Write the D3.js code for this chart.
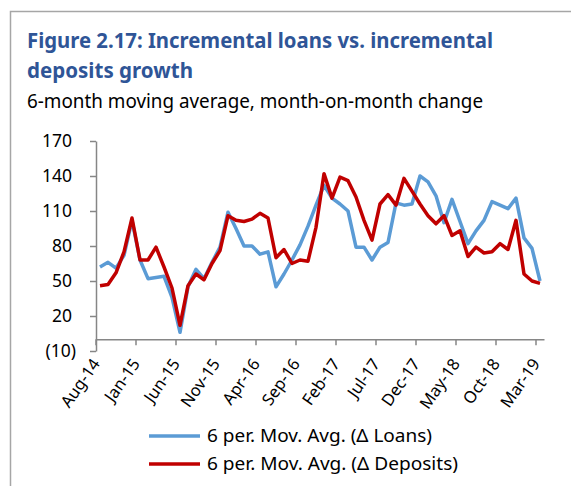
<!DOCTYPE html>
<html>
<head>
<meta charset="utf-8">
<script src="https://cdn.jsdelivr.net/npm/d3@7"></script>
<style>
  body { margin: 0; background: #fff; }
  text { font-family: "Noto Sans", "Open Sans", sans-serif; }
</style>
</head>
<body>
<script>
var months = ["Aug-14","Sep-14","Oct-14","Nov-14","Dec-14",
  "Jan-15","Feb-15","Mar-15","Apr-15","May-15","Jun-15","Jul-15","Aug-15","Sep-15","Oct-15","Nov-15","Dec-15",
  "Jan-16","Feb-16","Mar-16","Apr-16","May-16","Jun-16","Jul-16","Aug-16","Sep-16","Oct-16","Nov-16","Dec-16",
  "Jan-17","Feb-17","Mar-17","Apr-17","May-17","Jun-17","Jul-17","Aug-17","Sep-17","Oct-17","Nov-17","Dec-17",
  "Jan-18","Feb-18","Mar-18","Apr-18","May-18","Jun-18","Jul-18","Aug-18","Sep-18","Oct-18","Nov-18","Dec-18",
  "Jan-19","Feb-19","Mar-19"];

var loans = [62,66,61,72,102,68,52,53,54,36,6,45,60,52,66,79,109,95,80,80,73,75,45,56,68,81,97,115,132,
  121,116,110,79,79,68,79,83,117,115,116,140,135,123,100,120,101,82,93,102,118,115,112,121,87,78,50];

var deposits = [46,47,57,75,104,68,68,79,62,44,12,46,56,51,65,76,106,102,101,103,108,104,70,77,65,68,67,96,142,
  121,139,136,122,102,85,116,124,115,138,127,116,106,99,106,89,93,71,79,74,75,82,77,102,56,50,48];

var tickMonths = ["Aug-14","Jan-15","Jun-15","Nov-15","Apr-16","Sep-16","Feb-17","Jul-17","Dec-17","May-18","Oct-18","Mar-19"];
var yTicks = [-10,20,50,80,110,140,170];

var seriesNames = ["6 per. Mov. Avg. (\u0394 Loans)", "6 per. Mov. Avg. (\u0394 Deposits)"];
var legendWidths = [225, 251];
var colors = ["#5b9bd5", "#c00000"];

var width = 571, height = 486;

var svg = d3.select("body").append("svg")
    .attr("width", width)
    .attr("height", height);

// frame
svg.append("path")
   .attr("d", "M10.5," + height + "V11.5H" + width)
   .attr("fill", "none")
   .attr("stroke", "#a6a6a6")
   .attr("stroke-width", 1.5);

// titles
svg.append("text")
   .attr("x", 27).attr("y", 48)
   .attr("fill", "#2f5597")
   .attr("font-size", 21.5).attr("font-weight", "bold")
   .attr("textLength", 466).attr("lengthAdjust", "spacingAndGlyphs")
   .text("Figure 2.17: Incremental loans vs. incremental");
svg.append("text")
   .attr("x", 27).attr("y", 78)
   .attr("fill", "#2f5597")
   .attr("font-size", 21.5).attr("font-weight", "bold")
   .attr("textLength", 166).attr("lengthAdjust", "spacingAndGlyphs")
   .text("deposits growth");
svg.append("text")
   .attr("x", 27).attr("y", 108)
   .attr("fill", "#000")
   .attr("font-size", 19)
   .attr("textLength", 456).attr("lengthAdjust", "spacingAndGlyphs")
   .text("6-month moving average, month-on-month change");

var xScale = d3.scaleBand()
    .domain(months)
    .range([96, 544])
    .padding(0);
var bw = xScale.bandwidth();

var yScale = d3.scaleLinear()
    .domain([-10, 170])
    .range([351, 141]);

var axisColor = "#868686";

// y axis
var yAxis = svg.append("g")
    .attr("transform", "translate(96,0)")
    .call(d3.axisLeft(yScale)
      .tickValues(yTicks)
      .tickSize(6)
      .tickSizeOuter(0)
      .tickPadding(18)
      .tickFormat(function(d){ return d < 0 ? "(" + (-d) + ")" : d; }));
yAxis.select(".domain").attr("stroke", axisColor).attr("stroke-width", 1.5);
yAxis.selectAll(".tick line").attr("stroke", axisColor).attr("stroke-width", 1.5);
yAxis.selectAll(".tick text")
     .attr("fill", "#000")
     .attr("font-size", 17.5)
     .attr("font-family", "Noto Sans")
     .attr("dx", function(d){ return d < 0 ? 4 : 0; });

// x axis
var xAxis = svg.append("g")
    .attr("transform", "translate(0," + yScale(0) + ")")
    .call(d3.axisBottom(xScale)
      .tickValues(tickMonths)
      .tickSize(6)
      .tickSizeOuter(0));
xAxis.select(".domain").attr("stroke", axisColor).attr("stroke-width", 1.5);
xAxis.selectAll(".tick line")
     .attr("stroke", axisColor).attr("stroke-width", 1.5)
     .attr("x1", -bw / 2).attr("x2", -bw / 2);
xAxis.selectAll(".tick text")
     .attr("fill", "#000")
     .attr("font-size", 16.5)
     .attr("font-family", "Noto Sans")
     .attr("y", 0).attr("dy", "0.35em")
     .attr("text-anchor", "end")
     .attr("transform", "translate(-4,21) rotate(-55)");

// lines
var line = d3.line()
    .x(function(d, i){ return xScale(months[i]) + bw / 2; })
    .y(function(d){ return yScale(d); });

[loans, deposits].forEach(function(s, k){
  svg.append("path")
     .datum(s)
     .attr("d", line)
     .attr("fill", "none")
     .attr("stroke", colors[k])
     .attr("stroke-width", 3.5)
     .attr("stroke-linejoin", "round");
});

// legend
var legend = svg.append("g");
legend.selectAll("line")
      .data(seriesNames)
      .enter()
      .append("line")
      .attr("x1", 149).attr("x2", 200)
      .attr("y1", function(d, i){ return 436 + i * 28; })
      .attr("y2", function(d, i){ return 436 + i * 28; })
      .attr("stroke", function(d, i){ return colors[i]; })
      .attr("stroke-width", 3.5);
legend.selectAll("text")
      .data(seriesNames)
      .enter()
      .append("text")
      .attr("x", 207)
      .attr("y", function(d, i){ return 436 + i * 28; })
      .attr("dy", "0.35em")
      .attr("font-size", 18)
      .attr("fill", "#000")
      .attr("textLength", function(d, i){ return legendWidths[i]; })
      .attr("lengthAdjust", "spacingAndGlyphs")
      .text(function(d){ return d; });
</script>
</body>
</html>
